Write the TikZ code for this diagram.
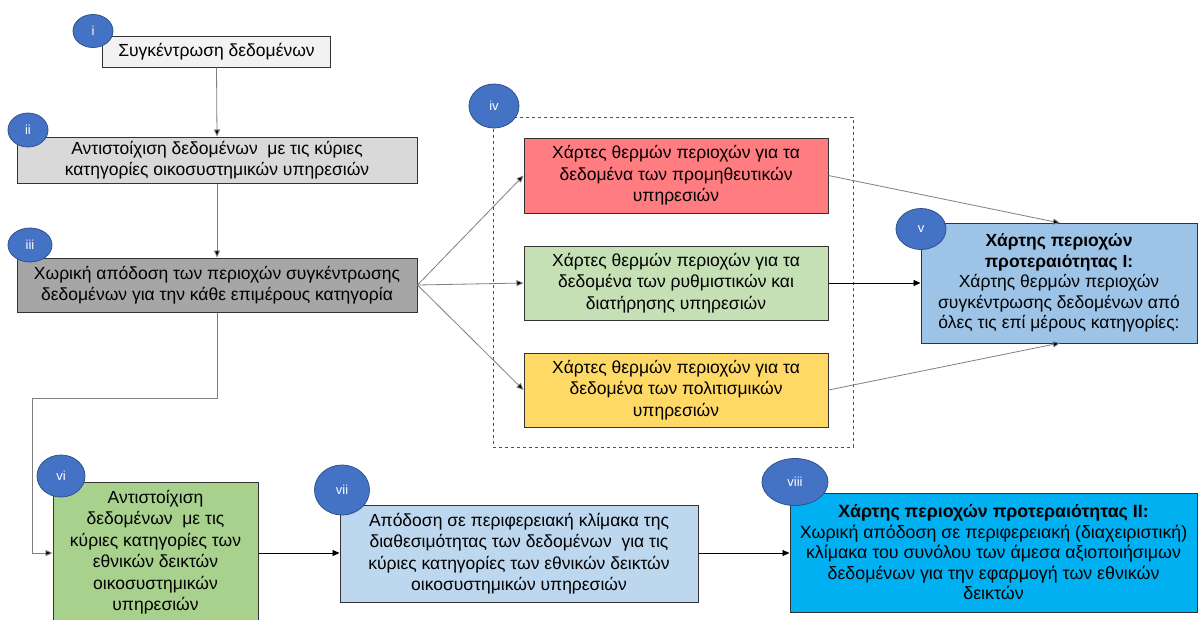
\documentclass[tikz,border=0pt]{standalone}
\usepackage{fontspec}
\setmainfont{Liberation Sans}
\usetikzlibrary{arrows.meta,shapes.geometric}
\definecolor{cblue}{HTML}{4472C4}
\definecolor{cblueb}{HTML}{2F528F}
\definecolor{cred}{HTML}{FF7C80}
\definecolor{cgreen}{HTML}{C5E0B4}
\definecolor{cyellow}{HTML}{FFD966}
\definecolor{cv}{HTML}{9DC3E6}
\definecolor{cvi}{HTML}{A9D18E}
\definecolor{cvii}{HTML}{BDD7EE}
\definecolor{cviii}{HTML}{00B0F0}
\definecolor{ci}{HTML}{F2F2F2}
\definecolor{cii}{HTML}{D9D9D9}
\definecolor{ciii}{HTML}{A6A6A6}
\definecolor{lgray}{HTML}{7F7F7F}
\definecolor{slate}{HTML}{44546A}
\begin{document}
\begin{tikzpicture}[x=1pt,y=-1pt,
  box/.style={draw=black!80, line width=1pt, rectangle, align=center, inner sep=0pt,
    font=\fontsize{17.5}{21.5}\selectfont},
  num/.style={ellipse, fill=cblue, draw=cblueb, line width=0.8pt, text=white, inner sep=0pt,
    font=\fontsize{13}{13}\selectfont},
  arr/.style={draw=lgray, line width=0.8pt, -{Triangle[length=7pt,width=6pt,fill=black]}},
  barr/.style={draw=black, line width=0.8pt, -{Triangle[length=7pt,width=6pt,fill=black]}}
]
\clip (0,0) rectangle (1198,619);
\fill[white] (0,0) rectangle (1198,619);

% dashed group
\draw[draw=slate, dashed, line width=0.8pt] (493,117) rectangle (853,447);

% boxes
\node[box, fill=ci, minimum width=228, minimum height=31] (i) at (216.5,51.5) {Συγκέντρωση δεδομένων};
\node[box, fill=cii, minimum width=400, minimum height=46] (ii) at (217,160) {Αντιστοίχιση δεδομένων \ με τις κύριες\\κατηγορίες οικοσυστημικών υπηρεσιών};
\node[box, fill=ciii, minimum width=400, minimum height=54] (iii) at (217,285) {Χωρική απόδοση των περιοχών συγκέντρωσης\\δεδομένων για την κάθε επιμέρους κατηγορία};

\node[box, fill=cred, minimum width=304, minimum height=75] (r) at (676,175.5) {Χάρτες θερμών περιοχών για τα\\δεδομένα των προμηθευτικών\\υπηρεσιών};
\node[box, fill=cgreen, minimum width=304, minimum height=74] (g) at (676,283) {Χάρτες θερμών περιοχών για τα\\δεδομένα των ρυθμιστικών και\\διατήρησης υπηρεσιών};
\node[box, fill=cyellow, minimum width=304, minimum height=74] (y) at (676,390) {Χάρτες θερμών περιοχών για τα\\δεδομένα των πολιτισμικών\\υπηρεσιών};

\node[box, fill=cv, minimum width=276, minimum height=120, font=\fontsize{17.5}{20.5}\selectfont] (v) at (1059,283) {\textbf{Χάρτης περιοχών}\\\textbf{προτεραιότητας Ι:}\\Χάρτης θερμών περιοχών\\συγκέντρωσης δεδομένων από\\όλες τις επί μέρους κατηγορίες:};

\node[box, fill=cvi, minimum width=205, minimum height=140, font=\fontsize{17.5}{21.5}\selectfont] (vi) at (155.5,552) {Αντιστοίχιση\\δεδομένων \ με τις\\κύριες κατηγορίες των\\εθνικών δεικτών\\οικοσυστημικών\\υπηρεσιών};
\node[box, fill=cvii, minimum width=358, minimum height=97] (vii) at (519,553.5) {Απόδοση σε περιφερειακή κλίμακα της\\διαθεσιμότητας των δεδομένων \ για τις\\κύριες κατηγορίες των εθνικών δεικτών\\οικοσυστημικών υπηρεσιών};
\node[box, fill=cviii, minimum width=407, minimum height=119, font=\fontsize{17.8}{20.5}\selectfont] (viii) at (993.5,552.5) {\textbf{Χάρτης περιοχών προτεραιότητας ΙΙ:}\\Χωρική απόδοση σε περιφερειακή (διαχειριστική)\\κλίμακα του συνόλου των άμεσα αξιοποιήσιμων\\δεδομένων για την εφαρμογή των εθνικών\\δεικτών};

% connectors
\draw[arr] (i.south) -- (ii.north);
\draw[arr] (ii.south) -- (iii.north);
\draw[arr] (iii.east) -- (r.west);
\draw[arr] (iii.east) -- (g.west);
\draw[arr] (iii.east) -- (y.west);
\coordinate (vt) at (1060,223);
\coordinate (vb) at (1060,343);
\draw[arr] (r.east) -- (vt);
\draw[barr] (g.east) -- (v.west);
\draw[arr] (y.east) -- (vb);
\coordinate (c1) at (217,398);
\coordinate (c2) at (32,398);
\coordinate (c3) at (32,553);
\draw[arr] (iii.south) -- (c1) -- (c2) -- (c3) -- (vi.west |- c3);
\draw[barr] (vi.east |- c3) -- (vii.west |- c3);
\draw[barr] (vii.east |- c3) -- (viii.west |- c3);

% number badges
\node[num, minimum width=40, minimum height=33] (ni) at (93,31) {i};
\node[num, minimum width=40, minimum height=34] (nii) at (28,130) {ii};
\node[num, minimum width=44, minimum height=34] (niii) at (30,245) {iii};
\node[num, minimum width=50, minimum height=44] (niv) at (494,106) {iv};
\node[num, minimum width=50, minimum height=41] (nv) at (921,229) {v};
\node[num, minimum width=48, minimum height=42] (nvi) at (61,476) {vi};
\node[num, minimum width=55, minimum height=50] (nvii) at (342,490) {vii};
\node[num, minimum width=66, minimum height=47] (nviii) at (795,482) {viii};
\end{tikzpicture}
\end{document}
